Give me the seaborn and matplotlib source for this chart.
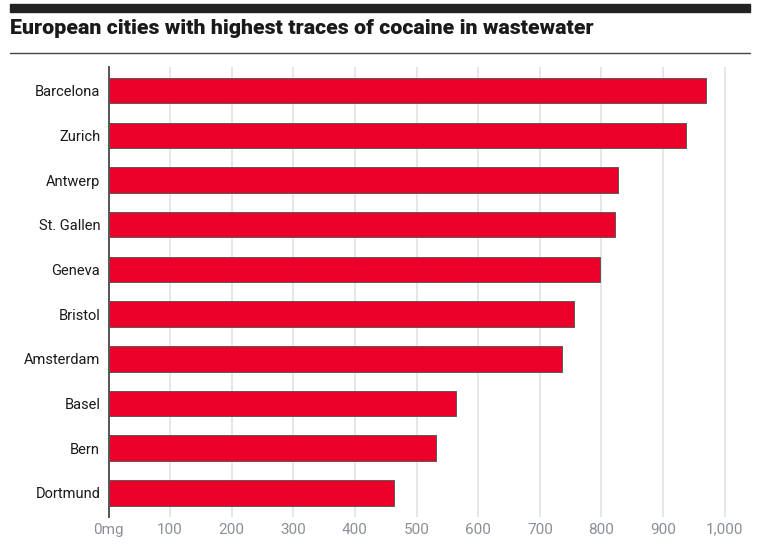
import matplotlib
matplotlib.use("Agg")
import matplotlib.pyplot as plt
from matplotlib.patches import Rectangle
from matplotlib.lines import Line2D
from matplotlib import font_manager as fm
import seaborn as sns
import pandas as pd

cities = ["Barcelona", "Zurich", "Antwerp", "St. Gallen", "Geneva",
          "Bristol", "Amsterdam", "Basel", "Bern", "Dortmund"]
values = [969, 937, 827, 822, 798, 755, 736, 564, 531, 463]
xticks = [0, 100, 200, 300, 400, 500, 600, 700, 800, 900, 1000]
xticklabels = ["0mg", "100", "200", "300", "400", "500", "600", "700", "800", "900", "1,000"]
title = "European cities with highest traces of cocaine in wastewater"

sns.set_theme(style="white")
names = {f.name for f in fm.fontManager.ttflist}
narrow = "Liberation Sans Narrow" if "Liberation Sans Narrow" in names else "Roboto"
plt.rcParams['font.family'] = [narrow, 'DejaVu Sans']

W, H = 768, 555
fig = plt.figure(figsize=(W / 100, H / 100), dpi=100)
ax = fig.add_axes([108.5 / W, 1 - 517 / H, (750 - 108.5) / W, 450 / H])

df = pd.DataFrame({"city": cities, "value": values})
sns.barplot(data=df, y="city", x="value", orient="h", ax=ax, color="#EB0029",
            saturation=1, width=0.57, edgecolor="#5a5a5a", linewidth=0.7, zorder=3)

ax.set_xlim(0, 1041)
ax.set_ylim(9.54, -0.53)
ax.set_xticks(xticks)
ax.set_xticklabels(xticklabels, color="#8a8f99", fontsize=11)
ax.tick_params(axis="x", length=0, pad=4)
ax.tick_params(axis="y", length=0, pad=6, labelsize=10.5, labelcolor="#1a1a1a")
ax.set_xlabel("")
ax.set_ylabel("")
ax.grid(axis="x", color="#e4e4e4", linewidth=1.3, zorder=0)
ax.grid(axis="y", visible=False)
for s in ["top", "right", "bottom"]:
    ax.spines[s].set_visible(False)
ax.spines["left"].set_color("#555555")
ax.spines["left"].set_linewidth(1.4)
ax.spines["left"].set_zorder(4)

# decorations
fig.patches.append(Rectangle((10 / W, 1 - 12.3 / H), 740 / W, 8 / H,
                             transform=fig.transFigure, color="#222222", zorder=5))
fig.lines.append(Line2D([10 / W, 750 / W], [1 - 52.7 / H] * 2, transform=fig.transFigure,
                        color="#444444", linewidth=1.0))
t = fig.text(10 / W, 1 - 28 / H, title, fontsize=15, fontweight="heavy",
             color="#1a1a1a", va="center", ha="left", family=["Roboto", "DejaVu Sans"])
fig.canvas.draw()
bb = t.get_window_extent()
t.set_fontsize(15 * 585 / bb.width)

fig.savefig("out.png", dpi=100)
